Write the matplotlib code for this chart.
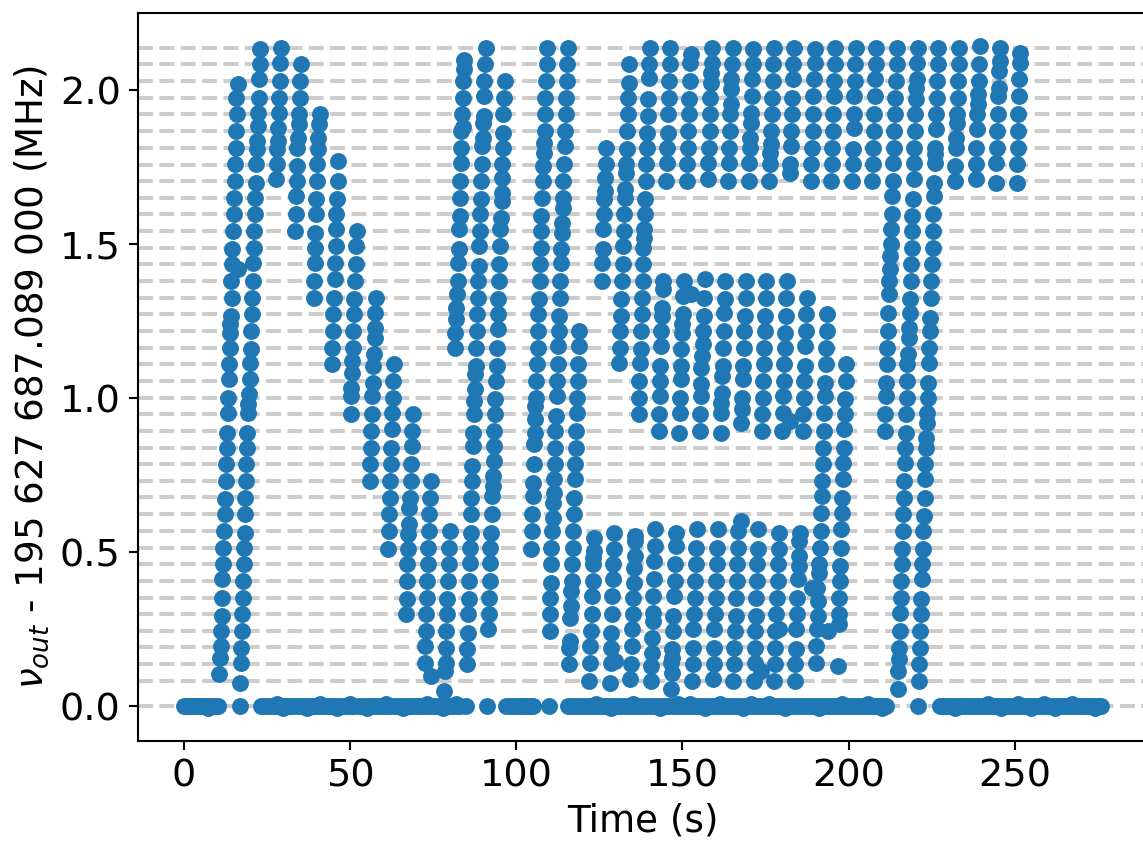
import numpy as np
import matplotlib
matplotlib.use('Agg')
import matplotlib.pyplot as plt

# comb lines (MHz)
comb_lines = [2.137, 2.083, 2.029, 1.975, 1.921, 1.867, 1.812, 1.758, 1.704, 1.650,
              1.596, 1.542, 1.488, 1.434, 1.380, 1.326, 1.272, 1.218, 1.163, 1.109,
              1.055, 1.001, 0.947, 0.893, 0.839, 0.785, 0.731, 0.677, 0.623, 0.569,
              0.514, 0.460, 0.406, 0.352, 0.298, 0.244, 0.190, 0.136, 0.081, 0.0]
comb_step = 0.0541

# sweeps: (time in s, comb line number counted from the top line)
sweep_a = [(16.2,2.2),(15.8,3),(15.9,4),(15.8,5),(15.6,6),(15.4,7),(15.3,8),(15.1,9),(15.0,10),(14.9,11),(14.6,12.1),(14.4,13),(16.3,13.3),(14.3,14),(14.4,15),(14.2,16.1),(14.0,16.6),(13.8,17.1),(13.8,18),(13.6,19),(13.5,19.9),(13.3,21),(13.2,21.9),(13.0,23.1),(12.9,24),(12.7,25),(12.6,26),(12.5,27.1),(12.3,28),(12.1,29),(11.9,30),(11.8,31),(11.6,31.9),(11.6,33),(11.4,34.1),(11.2,35),(11.2,35.9),(10.9,36.6),(10.7,37.6)]
sweep_b = [(23.0,0.1),(22.8,1),(22.7,1.9),(22.5,3),(22.3,3.9),(22.2,4.7),(22.0,5.6),(21.9,6.1),(21.7,7),(21.7,8.1),(21.4,9),(21.4,10),(21.1,11),(21.1,12),(20.8,12.9),(20.7,14),(20.6,15),(20.4,16),(20.3,17),(20.2,18.1),(20.0,18.9),(19.8,19.9),(19.7,20.8),(19.4,21.4),(19.2,21.9),(19.0,23.1),(19.0,24),(18.8,25),(18.7,26),(18.5,27),(18.4,28),(18.3,29.1),(18.2,30),(18.0,31),(17.8,32),(17.7,33),(17.6,34),(17.4,35),(17.2,36),(17.1,36.9),(16.9,38.1)]
sweep_c = [(29.1,0),(29.0,0.9),(28.8,2),(28.6,3),(28.5,3.9),(28.3,4.8),(28.2,5.6),(28.1,6.1),(28.0,7),(27.8,7.9)]
sweep_d = [(35.1,1),(35.0,2),(34.8,3),(34.6,4),(34.5,4.6),(34.3,5.4),(34.1,6),(34.1,7.1),(33.9,8),(33.8,8.9),(33.6,10),(33.5,11)]
sweep_e = [(40.9,4),(40.7,4.6),(40.5,5.4),(40.3,6.1),(40.2,7),(40.0,8),(39.9,9.1),(39.8,10),(39.6,11.1),(39.5,12),(39.4,12.9),(39.2,14),(39.1,15)]
sweep_f = [(46.5,6.8),(46.4,8),(46.1,9.1),(45.9,10),(45.8,10.9),(45.7,11.9),(45.5,12.9),(45.4,13.9),(45.2,15),(45.0,16),(44.9,17),(44.7,18),(44.7,19)]
sweep_g = [(52.0,11),(51.9,11.9),(51.7,13),(51.5,14),(51.3,15.1),(51.2,16),(51.0,17),(50.9,18),(50.7,18.8),(50.5,19.5),(50.4,20.4),(50.3,20.9),(50.2,22)]
sweep_h = [(57.8,15),(57.6,15.9),(57.4,16.8),(57.4,17.4),(57.1,18.4),(57.0,19.1),(56.8,20.1),(56.7,20.9),(56.5,22),(56.4,23),(56.2,24),(56.1,25),(55.9,26)]
sweep_i = [(63.1,19),(63.0,20),(62.8,21),(62.6,21.9),(62.5,22.9),(62.3,24),(62.3,25),(62.1,26),(61.9,27),(61.8,28),(61.7,29),(61.5,30.1)]
sweep_j = [(68.9,22),(68.7,23),(68.5,23.9),(68.3,25),(68.2,26),(68.1,27),(67.8,27.6),(67.7,28.6),(67.5,29.2),(67.5,30.1),(67.2,31),(67.2,32),(67.0,33.1),(66.9,34)]
sweep_k = [(74.3,26),(74.1,27),(73.9,28),(73.7,29),(73.6,30),(73.4,31),(73.3,32),(73.1,33),(73.0,34),(72.8,35),(72.7,35.9),(72.5,36.9),(74.4,37.7)]
sweep_l = [(80.1,29),(79.9,30),(79.7,31),(79.5,32),(79.3,33.1),(79.2,34),(79.0,35),(78.9,36),(78.8,36.9),(78.5,37.4),(78.2,38.6)]
sweep_m = [(84.4,0.75),(84.2,1.25),(84.1,2),(84.0,3),(83.7,4),(84.1,4.75),(83.5,5),(83.5,6),(83.3,6.9),(83.1,8),(83.1,9),(83.0,10.1),(82.8,10.9),(82.7,12.1),(82.6,12.9),(82.4,14),(82.1,14.8),(81.9,15.6),(81.9,16.3),(81.7,17.1),(81.6,18)]
sweep_n = [(90.8,0),(90.6,1),(90.4,2),(90.3,2.9),(90.2,4.1),(90.1,4.5),(89.9,5.4),(89.7,5.9),(89.6,7),(89.5,8),(89.3,9.1),(89.2,10),(89.1,11),(88.9,11.9),(88.8,13.1),(88.6,14),(88.4,15),(88.2,16),(88.2,17),(88.0,18),(87.9,19.1),(87.7,19.6),(87.5,20.5),(87.4,21.2),(87.3,22),(87.1,23.1),(87.0,23.9),(86.8,25.1),(86.7,26),(86.5,27),(86.4,28),(86.3,29.1),(86.1,30),(86.0,30.9),(85.8,32),(85.8,33.1),(85.6,34),(85.4,35.1),(85.2,36.1),(85.1,37)]
sweep_o = [(96.6,2),(96.4,3),(96.1,4),(96.1,5.1),(96.0,6),(95.8,7),(95.7,7.8),(95.6,8.7),(95.6,9.2),(95.3,10.2),(95.2,10.9),(95.1,11.9),(94.9,13),(94.7,14),(94.6,15.1),(94.5,16),(94.4,16.9),(94.3,18),(94.1,19.1),(93.9,20),(93.7,21.1),(93.5,22),(93.4,23),(93.2,23.9),(93.2,24.8),(93.0,25.7),(92.9,26.3),(92.7,26.9),(92.6,28),(92.4,29.1),(92.2,30),(92.1,30.9),(92.0,32),(91.8,33),(91.7,34),(91.6,34.9)]
sweep_p = [(109.4,0),(109.2,1),(109.0,2),(108.8,3),(108.7,4),(108.6,5),(108.4,5.7),(108.3,6.3),(108.1,7.1),(108.0,8),(107.8,9),(107.6,10.1),(107.5,11),(107.4,12),(107.3,13),(107.1,14),(106.9,15.1),(106.7,16),(106.6,17),(106.5,18),(106.3,19),(106.1,20),(106.0,21),(105.8,21.5),(105.7,22.3),(105.6,23.1),(105.4,23.8),(105.3,25),(105.1,26.1),(105.1,26.9),(104.9,28),(104.7,29),(104.5,30.1)]
sweep_q = [(115.5,0),(115.4,1),(115.2,2),(115.1,3),(114.9,4),(114.8,5),(114.6,5.9),(114.4,7),(114.2,8),(114.1,9),(114.0,9.6),(113.8,10.5),(113.7,11.1),(113.5,12.1),(113.4,12.9),(113.2,14),(113.1,15),(112.9,16.1),(112.9,17),(112.7,17.9),(112.5,19),(112.4,20),(112.2,20.9),(112.0,22.1),(111.8,23),(111.7,24),(111.6,25),(111.5,25.9),(111.3,26.7),(111.2,27.3),(111.0,28.2),(110.9,29),(110.6,30),(110.5,31),(110.4,32.1),(110.3,33),(110.2,34),(110.1,35)]
sweep_r = [(119.0,17),(118.8,17.9),(118.6,19),(118.5,20),(118.4,21),(118.2,21.9),(118.1,23),(118.0,24),(117.7,25),(117.6,25.9),(117.5,27),(117.4,28),(117.2,29),(117.1,30),(116.9,31),(116.8,32),(116.5,32.6),(116.4,33.5),(116.3,34.2),(116.1,35.6),(116.0,36),(115.9,37)]
sweep_s = [(127.1,6),(126.9,7),(126.7,7.8),(126.6,8.6),(126.4,9.1),(126.3,10),(126.1,10.9),(126.0,12.1),(125.8,12.9),(125.7,14),
           (123.3,29.4),(123.3,30.2),(123.1,30.6),(123.0,31),(123.0,32),(122.8,32.9),(122.7,34),(122.5,35),(122.3,35.9),(122.2,36.9),(122.0,38)]
sweep_t = [(133.9,1),(133.8,2.1),(133.6,3),(133.5,4),(133.3,5),(133.2,6.1),(133.0,7),(132.9,7.5),(132.7,8.5),(132.7,9),(132.5,10),(132.3,11),(132.1,11.9),(132.0,13),(131.8,14),(131.6,15.1),(131.5,16.1),(131.3,17),(131.2,18),(131.0,18.9),
           (129.5,29.1),(129.4,30.1),(129.2,31),(129.1,31.9),(128.9,32.9),(128.8,34),(128.6,35.1),(128.5,36),(128.5,36.9),(129.8,36.8),(128.3,38.1)]
sweep_u = [(140.2,0),(140.0,1),(139.9,1.8),(139.7,3.1),(139.6,4.1),(139.4,5.1),(139.3,6),(139.1,7),(139.0,8),(138.9,9.1),(138.7,10),(138.6,10.9),(138.5,11.4),(138.3,12),(138.2,13),(138.0,14),(137.9,15),(137.7,16),(137.5,17),(137.4,18.1),(137.2,18.9),(137.0,20),(136.9,21),(136.8,22),
           (135.7,29.3),(135.7,29.6),(135.6,30.5),(135.4,31.2),(135.3,32.1),(135.2,33),(135.0,34),(134.8,34.9),(134.7,35.9),(134.5,37),(134.3,37.9)]
sweep_v = [(146.3,0),(146.2,1),(146.1,2),(145.9,3),(145.8,4),(145.7,5.1),(145.5,6),(145.4,6.9),(145.2,8),
           (144.3,14),(144.1,14.5),(143.9,15.6),(143.8,16.1),(143.7,17),(143.6,17.9),(143.4,19.1),(143.3,20),(143.2,20.9),(142.9,22),(142.9,23),
           (141.9,28.9),(141.7,29.9),(141.6,30.8),(141.5,31.9),(141.3,32.9),(141.2,33.9),(141.1,34.4),(141.0,35.4),(140.8,36.3),(140.7,37.1),(140.5,38)]
sweep_w = [(152.5,0.4),(152.4,0.9),(152.2,2),(152.0,3.1),(151.9,4),(151.8,5),(151.7,6),(151.5,7),(151.3,8),
           (150.5,14),(150.1,14.9),(150.1,16),(150.0,16.6),(149.9,17.1),(149.7,18.1),(149.6,19.1),(149.5,19.9),(149.3,21),(149.2,21.9),(149.1,23.1),
           (148.1,29.1),(148.0,29.9),(147.9,31),(147.7,32),(147.5,32.9),(147.3,34.1),(147.1,35),(147.0,36.1),(146.8,36.6),(146.7,36.9),(146.8,37.5),(146.6,38.5)]
sweep_x = [(158.9,0),(158.8,0.9),(158.7,1.5),(158.5,2.1),(158.4,3),(158.3,4),(158.2,5),(158.0,6),(157.8,6.9),(157.6,7.9),
           (156.8,13.9),(156.6,15),(156.5,16.1),(156.3,17),(156.1,17.8),(155.9,18.5),(155.7,19.2),(155.7,20.2),(155.6,20.9),(155.4,22),(155.3,23),(152.7,14.8),
           (154.4,28.9),(154.2,30),(154.1,31),(153.9,32),(153.7,33),(153.5,34),(153.3,34.9),(153.2,36),(153.1,37),(153.0,38)]
sweep_y = [(165.1,0),(165.0,1),(164.7,1.9),(164.6,2.5),(164.5,3.4),(164.4,4),(164.3,5),(164.1,6),(163.9,6.9),(163.8,8),
           (162.9,14),(162.8,15.1),(162.6,15.9),(162.4,17),(162.3,18),(162.2,19.1),(162.0,19.7),(161.8,20.7),(161.7,21.3),(161.6,21.9),(161.5,23.1),
           (160.6,28.9),(160.5,30),(160.3,31),(160.1,32),(160.0,33),(159.8,34),(159.6,34.9),(159.5,36),(159.4,37),(159.2,37.9)]
sweep_z = [(171.3,0.1),(171.1,1),(171.0,1.9),(170.8,2.9),(170.7,3.9),(170.5,4.5),(170.3,5.4),(170.2,6),(170.1,6.9),(170.0,8),
           (169.1,14),(169.0,15),(168.8,16.1),(168.6,17),(168.5,18),(168.3,19.1),(168.1,19.9),(168.0,21),(167.8,21.7),(167.7,22.5),
           (167.5,28.4),(166.7,29),(166.6,30),(166.4,31),(166.3,32),(166.1,33),(166.0,34.1),(165.8,35),(165.6,36),(165.5,37),(165.3,38)]
sweep_aa = [(177.5,0),(177.3,1),(177.2,2),(177.0,3),(176.9,4),(176.8,5),(176.7,5.8),(176.5,6.3),(176.3,7),(176.1,8),
            (175.3,14),(175.1,15),(174.9,16.1),(174.8,17),(174.7,18),(174.5,19),(174.3,20),(174.2,21),(174.1,22),(173.9,23),
            (172.8,28.9),(172.7,30.1),(172.5,31),(172.4,32),(172.2,33),(172.1,34.1),(171.9,35),(171.9,36),(171.7,36.9),(173.8,37.4),(171.5,38)]
sweep_ab = [(183.7,0),(183.4,1),(183.3,1.9),(183.1,3),(183.0,4),(182.8,5),(182.7,5.9),(182.5,7),(182.4,7.5),
            (181.5,14),(181.3,15),(181.1,16.1),(180.9,17.1),(180.8,18),(180.6,19),(180.5,20),(180.4,20.9),(180.3,21.9),(182.3,22.4),(180.1,23),
            (179.1,29.1),(179.0,30.1),(178.8,31),(178.7,32),(178.5,33),(178.3,34),(179.1,34.9),(178.0,35),(177.9,36),(177.8,37),(177.7,38)]
sweep_ac = [(189.9,0.1),(189.8,0.9),(189.5,1.9),(189.4,2.9),(189.3,4),(189.2,5),(189.0,6),(188.7,7),(188.6,8),
            (187.4,15),(187.3,16),(187.1,17),(187.0,17.9),(186.8,19.1),(186.7,20),(186.6,21),(186.4,22),(186.3,23),
            (185.3,29.1),(185.2,29.6),(185.1,30.5),(185.0,31.1),(184.8,31.9),(184.6,33),(184.4,34),(184.3,34.9),(184.1,36.1),(184.0,37),(183.8,38)]
sweep_ad = [(195.9,0),(195.8,1),(195.6,2),(195.6,2.9),(195.4,4),(195.3,5),(195.0,6),(194.9,7),(194.8,8),
            (193.5,16),(193.4,17),(193.2,18),(193.1,19),(192.9,20.1),(192.8,20.9),(192.6,21.9),(192.5,23),(192.4,24),(192.3,25),(192.0,26),(191.9,26.9),(191.8,27.9),(191.7,29),(191.5,30),(191.2,31),(191.1,31.5),(190.4,32.4),(188.9,32.4),(190.9,33.2),(190.7,34.1),(190.4,34.9),(190.3,35.9),(190.2,36.9)]
sweep_ae = [(202.2,0),(202.0,1),(201.9,2),(201.7,2.9),(201.6,4),(201.5,4.8),(201.3,6.1),(201.2,7),(201.0,8),
            (199.3,19),(199.1,20),(199.0,21.1),(198.8,22),(198.7,22.9),(198.6,24),(198.4,24.9),(198.2,25.9),(198.1,27),(197.9,27.9),(197.8,28.9),(197.6,30),(197.5,31.1),(197.4,32),(197.2,33),(197.1,34),(197.0,34.6),(193.9,35),(196.8,37.1)]
sweep_af = [(208.4,0),(208.2,1),(208.1,1.9),(208.0,2.9),(207.8,4),(207.6,5),(207.5,6),(207.3,7),(207.2,8)]
sweep_ag = [(214.6,0),(214.5,1),(214.4,2),(214.1,3),(214.0,4),(213.8,5),(213.7,6),(213.5,6.9),(213.3,8),(213.2,8.9),(213.1,10),(212.9,10.9),(212.8,11.8),(212.6,12.5),(212.4,13.3),(212.2,14),(212.1,14.8),(212.0,15.9),(211.9,17),(211.7,18),(211.5,19),(211.4,20.1),(211.2,20.9),(211.1,22),(210.9,23)]
sweep_ah = [(220.8,0),(220.6,0.9),(220.6,1.9),(220.4,2.4),(220.3,3.1),(220.1,4),(220.0,5),(219.8,6),(219.7,6.9),(219.6,7.9),(219.4,9.1),(219.2,10.1),(219.1,11),(219.0,12),(218.8,13),(218.7,14),(218.5,15.1),(218.4,15.9),(218.2,16.8),(218.1,17.4),(217.9,18.4),(217.7,19),(217.6,20),(217.5,21),(217.4,22),(217.3,23.1),(217.1,24),(217.0,24.9),(216.8,26),(216.6,27),(216.5,28),(216.3,29),(216.2,30.1),(216.0,31),(215.9,32),(215.7,33),(215.6,33.9),(215.4,35),(215.2,36),(215.1,36.7),(214.9,37.4),(214.8,38.5)]
sweep_ai = [(227.0,0),(226.8,1),(226.7,2),(226.5,3),(226.4,4),(226.2,4.9),(226.1,6),(226.0,6.4),(225.9,6.9),(225.7,8.1),(225.6,8.9),(225.5,10),(225.4,11),(225.3,12),(225.1,13),(224.8,14),(224.7,15),(224.5,16.2),(224.4,17),(224.3,18),(224.1,18.9),(223.9,20.1),(223.8,21),(223.6,21.9),(223.5,22.5),(223.4,23.4),(223.2,24),(223.1,25),(223.0,25.9),(222.9,27),(222.6,28.1),(222.5,29),(222.3,30.1),(222.2,31),(222.1,31.9),(221.8,33.1),(221.7,34),(221.6,35),(221.5,36),(221.3,37),(221.2,38)]
sweep_aj = [(233.3,0),(233.2,1),(233.0,2),(232.8,3),(232.7,4),(232.6,4.5),(232.4,5.4),(232.3,6),(232.1,7.1),(231.9,8)]
sweep_ak = [(239.5,-0.1),(239.3,1),(239.1,2),(239.0,2.8),(238.9,3.4),(238.7,4),(238.5,4.9),(238.3,6),(238.2,7),(238.2,7.9)]
sweep_al = [(245.7,0),(245.5,0.8),(245.3,1.4),(245.2,2.4),(245.1,2.9),(244.9,4),(244.7,5),(244.6,6),(244.5,6.9),(244.3,8.1)]
sweep_am = [(251.7,0.3),(251.5,0.9),(251.3,1.9),(251.2,2.9),(251.1,4),(251.0,5),(250.9,6),(250.7,7),(250.6,8.1)]

sweeps = [sweep_a, sweep_b, sweep_c, sweep_d, sweep_e, sweep_f, sweep_g, sweep_h, sweep_i, sweep_j,
          sweep_k, sweep_l, sweep_m, sweep_n, sweep_o, sweep_p, sweep_q, sweep_r, sweep_s, sweep_t,
          sweep_u, sweep_v, sweep_w, sweep_x, sweep_y, sweep_z, sweep_aa, sweep_ab, sweep_ac, sweep_ad,
          sweep_ae, sweep_af, sweep_ag, sweep_ah, sweep_ai, sweep_aj, sweep_ak, sweep_al, sweep_am]

# points sitting on the zero line (a few a little off it)
zero_times = [0.0, 0.8, 1.6, 2.4, 3.1, 3.8, 4.6, 5.4, 6.2, 7.0, 7.8, 8.6, 9.4, 10.3, 16.8,
              23.1, 24.2, 25.1, 26.3, 27.2, 28.4, 29.5, 30.3, 31.4, 32.3, 33.5, 34.6, 35.4, 36.5,
              37.4, 38.6, 39.5, 40.6, 41.4, 42.5, 43.6, 44.4, 45.3, 46.5, 47.6, 48.4, 49.6, 50.5,
              51.3, 52.6, 53.4, 54.5, 55.6, 56.3, 57.4, 58.5, 59.6, 60.4, 61.5, 62.3, 63.5, 64.6,
              65.4, 66.5, 67.6, 68.3, 69.4, 70.6, 71.5, 72.4, 73.6, 74.5, 75.3, 76.6, 77.4, 78.5,
              79.6, 80.4, 81.3, 82.2, 83.0, 84.9, 91.1, 97.0, 98.1, 99.2, 100.4, 101.3, 102.4,
              103.3, 104.2, 105.1, 109.8, 115.6, 116.8, 118.0, 119.3, 120.4, 121.5, 122.6, 123.5,
              124.7, 125.6, 126.8, 127.7, 128.9, 130.0, 131.2, 132.3, 133.5, 134.6, 135.7, 136.8,
              138.0, 139.1, 140.3, 141.4, 142.5, 143.7, 144.8, 146.0, 147.1, 148.3, 149.4, 150.5,
              151.7, 152.8, 154.0, 155.1, 156.2, 157.4, 158.5, 159.7, 160.8, 162.0, 163.1, 164.3,
              165.4, 166.5, 167.7, 168.8, 170.0, 171.1, 172.3, 173.4, 174.5, 175.7, 176.8, 178.0,
              179.1, 180.2, 181.4, 182.5, 183.7, 184.8, 186.0, 187.1, 188.2, 189.4, 190.5, 191.7,
              192.8, 194.0, 195.1, 196.2, 197.4, 198.5, 199.7, 200.8, 202.0, 203.1, 204.2, 205.4,
              206.5, 207.6, 208.6, 209.5, 210.4, 211.2, 220.9, 227.4, 228.3, 229.4, 230.2, 231.3,
              232.5, 233.4, 234.5, 235.3, 236.4, 237.5, 238.3, 239.4, 240.5, 241.3, 242.4, 243.5,
              244.3, 245.4, 246.5, 247.6, 248.4, 249.5, 250.3, 251.4, 252.5, 253.6, 254.4, 255.5,
              256.3, 257.4, 258.5, 259.3, 260.4, 261.5, 262.6, 263.4, 264.5, 265.3, 266.4, 267.5,
              268.6, 269.4, 270.3, 271.2, 272.1, 273.0, 273.9, 274.7, 275.4, 276.1]
zero_times_high = [27.9, 41.0, 50.0, 60.9, 73.1, 81.8, 124.1, 135.2, 148.8, 152.3, 161.4, 170.5,
                   176.2, 198.0, 206.0, 241.9, 250.9, 258.9, 267.1]
zero_times_low = [7.4, 29.9, 37.0, 46.0, 55.1, 66.0, 77.9, 128.4, 143.2, 156.8, 168.2, 180.8,
                  191.1, 210.0, 232.0, 246.0, 255.0, 262.0, 274.2]
zero_offset_high = 0.006
zero_offset_low = -0.006

x_ticks = [0, 50, 100, 150, 200, 250]
y_ticks = [0.0, 0.5, 1.0, 1.5, 2.0]

fig = plt.figure(figsize=(11.43, 8.44), dpi=100)
ax = fig.add_axes([138 / 1143, 103 / 844, 1009 / 1143, 728 / 844])

for f in comb_lines:
  ax.axhline(f, color='#cccccc', linewidth=2.9, linestyle='--', zorder=1)

for sweep in sweeps:
  times, rows = np.array(sweep).T
  ax.scatter(times, comb_lines[0] - comb_step * rows, s=148, color='#1f77b4', linewidths=0, zorder=2)

ax.scatter(zero_times, np.zeros(len(zero_times)), s=148, color='#1f77b4', linewidths=0, zorder=2)
ax.scatter(zero_times_high, np.full(len(zero_times_high), zero_offset_high), s=148, color='#1f77b4', linewidths=0, zorder=2)
ax.scatter(zero_times_low, np.full(len(zero_times_low), zero_offset_low), s=148, color='#1f77b4', linewidths=0, zorder=2)

ax.set_xlim(-13.8, 289.8)
ax.set_ylim(-0.1136, 2.25)
ax.set_xticks(x_ticks)
ax.set_yticks(y_ticks)
ax.tick_params(labelsize=27.5, width=1.5, length=6.5, pad=6)
for spine in ax.spines.values():
  spine.set_linewidth(1.5)
ax.set_xlabel('Time (s)', fontsize=26.8, labelpad=6)
ax.set_ylabel(r'$\nu_{out}$ - 195 627 687.089 000 (MHz)', fontsize=26.8, labelpad=6)

fig.savefig('out.png', dpi=100)
